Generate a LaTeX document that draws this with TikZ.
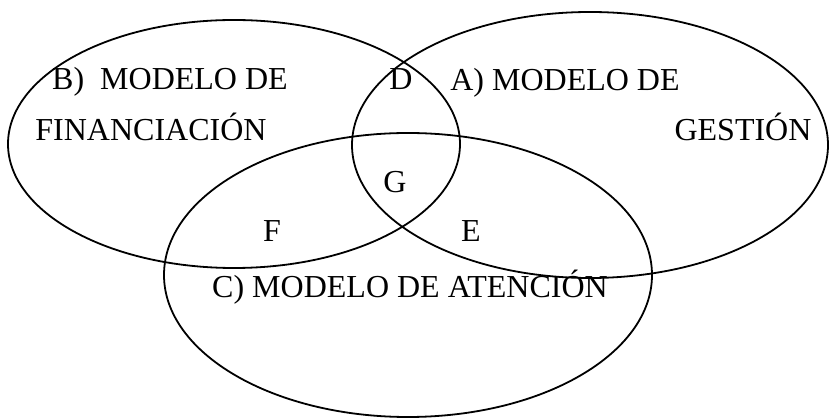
\documentclass[tikz,border=0pt]{standalone}
\usepackage{fontspec}
\setmainfont{Liberation Serif}
\usetikzlibrary{shapes.geometric}
\begin{document}
\begin{tikzpicture}[x=1pt,y=-1pt,
  setring/.style={draw, ellipse, line width=1.8pt, inner sep=0pt},
  lbl/.style={anchor=base, inner sep=0pt, font=\fontsize{32}{38}\selectfont}]
\useasboundingbox (0,0) rectangle (830,419);
\node[setring, minimum width=452pt, minimum height=248pt] (ringB) at (234,144) {};
\node[setring, minimum width=476pt, minimum height=266pt] (ringA) at (590,145) {};
\node[setring, minimum width=488pt, minimum height=284pt] (ringC) at (408,275) {};
\node[lbl] (tB1) at (170,90) {B)\ \ MODELO DE};
\node[lbl] (tB2) at (151,141) {FINANCIACIÓN};
\node[lbl] (tD) at (401,90) {D};
\node[lbl] (tA1) at (565,91) {A) MODELO DE};
\node[lbl] (tA2) at (743,141) {GESTIÓN};
\node[lbl] (tG) at (395,193) {G};
\node[lbl] (tF) at (272,242) {F};
\node[lbl] (tE) at (471,242) {E};
\node[lbl] (tC) at (410,298) {C) MODELO DE ATENCIÓN};
\end{tikzpicture}
\end{document}
